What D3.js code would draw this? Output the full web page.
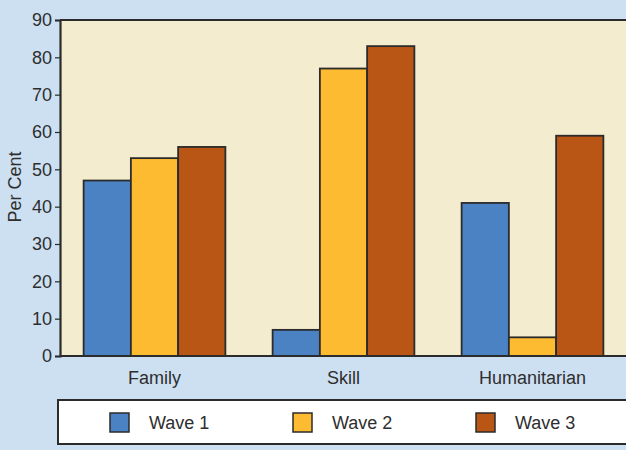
<!DOCTYPE html>
<html>
<head>
<meta charset="utf-8">
<script src="https://cdn.jsdelivr.net/npm/d3@7"></script>
<style>
  html, body { margin: 0; padding: 0; background: #cde0f2; }
  svg { display: block; }
  text { font-family: "Liberation Sans", Arial, sans-serif; fill: #2e2e2e; }
</style>
</head>
<body>
<svg id="chart" width="626" height="450"></svg>
<script>
// Survey shares by migrant category across three waves
const categories = ["Family", "Skill", "Humanitarian"];
const seriesNames = ["Wave 1", "Wave 2", "Wave 3"];
const wave1 = [47, 7, 41];
const wave2 = [53, 77, 5];
const wave3 = [56, 83, 59];
const yTicks = [0, 10, 20, 30, 40, 50, 60, 70, 80, 90];
const colors = ["#4b82c3", "#fcbb30", "#b95615"];

const values = [wave1, wave2, wave3];
const rows = categories.map((c, i) => ({
  category: c,
  vals: seriesNames.map((s, k) => ({ series: s, k, value: values[k][i] }))
}));

const svg = d3.select("#chart");
const W = 626, H = 450;
const FONT = "18px";
svg.append("rect").attr("width", W).attr("height", H).attr("fill", "#cde0f2");

const plot = { left: 60, top: 20, right: 627, bottom: 356 };

const x0 = d3.scaleBand().domain(categories).range([plot.left, plot.right]).paddingInner(0).paddingOuter(0);
const x1 = d3.scaleBand().domain(seriesNames).range([0, x0.bandwidth()]).paddingOuter(0.5).paddingInner(0);
const y = d3.scaleLinear().domain([0, 90]).range([plot.bottom, plot.top]);

// plot background
svg.append("rect")
  .attr("x", plot.left).attr("y", plot.top)
  .attr("width", W + 10 - plot.left).attr("height", plot.bottom - plot.top)
  .attr("fill", "#f3ecce");

// bars
const groups = svg.append("g").selectAll("g").data(rows).join("g")
  .attr("transform", d => `translate(${x0(d.category)},0)`);
groups.selectAll("rect").data(d => d.vals).join("rect")
  .attr("x", d => x1(d.series))
  .attr("y", d => y(d.value))
  .attr("width", x1.bandwidth())
  .attr("height", d => y(0) - y(d.value))
  .attr("fill", d => colors[d.k])
  .attr("stroke", "#2b2b2b")
  .attr("stroke-width", 1.8);

// top frame line
svg.append("line")
  .attr("x1", plot.left).attr("x2", W + 5)
  .attr("y1", plot.top).attr("y2", plot.top)
  .attr("stroke", "#2b2b2b").attr("stroke-width", 2);

// y axis
const yAxis = svg.append("g")
  .attr("transform", `translate(${plot.left},0)`)
  .call(d3.axisLeft(y).tickValues(yTicks).tickSize(5).tickPadding(3));
yAxis.select(".domain").attr("stroke", "#2b2b2b").attr("stroke-width", 2.2);
yAxis.selectAll(".tick line").attr("stroke", "#2b2b2b").attr("stroke-width", 1.2);
yAxis.selectAll(".tick text")
  .style("font-family", "'Liberation Sans', Arial, sans-serif")
  .style("font-size", FONT).attr("fill", "#2e2e2e");

// x axis
const xAxis = svg.append("g")
  .attr("transform", `translate(0,${plot.bottom})`)
  .call(d3.axisBottom(x0).tickSize(0).tickPadding(15));
xAxis.select(".domain").attr("stroke", "#2b2b2b").attr("stroke-width", 2.2)
  .attr("d", `M${plot.left},0H${W + 5}`);
xAxis.selectAll(".tick text")
  .style("font-family", "'Liberation Sans', Arial, sans-serif")
  .style("font-size", FONT).attr("fill", "#2e2e2e");

// y axis title
svg.append("text")
  .attr("transform", `translate(21,187) rotate(-90)`)
  .attr("text-anchor", "middle")
  .style("font-size", FONT)
  .text("Per Cent");

// legend
const legend = svg.append("g");
legend.append("rect")
  .attr("x", 58).attr("y", 400).attr("width", W + 10 - 58).attr("height", 44)
  .attr("fill", "#ffffff").attr("stroke", "#2b2b2b").attr("stroke-width", 2);
const lx = d3.scalePoint().domain(seriesNames).range([110, 476]);
const items = legend.selectAll("g.item").data(seriesNames).join("g")
  .attr("class", "item")
  .attr("transform", d => `translate(${lx(d)},413)`);
items.append("rect")
  .attr("width", 19).attr("height", 19)
  .attr("fill", (d, i) => colors[i])
  .attr("stroke", "#2b2b2b").attr("stroke-width", 1.5);
items.append("text")
  .attr("x", 39).attr("y", 16)
  .style("font-size", FONT)
  .text(d => d);
</script>
</body>
</html>
